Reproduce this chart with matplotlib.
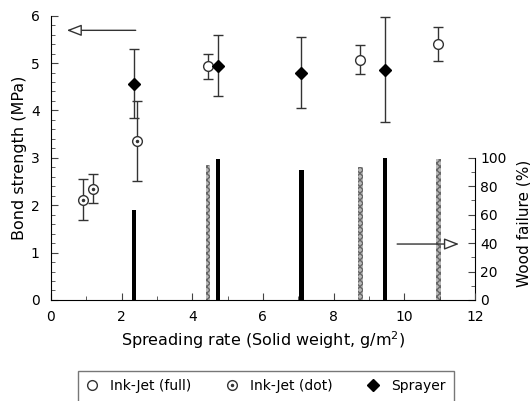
import matplotlib.pyplot as plt
from matplotlib.ticker import MultipleLocator, FixedLocator
from matplotlib.legend_handler import HandlerTuple

plt.rcParams['font.family'] = ['DejaVu Sans']
plt.rcParams['font.size'] = 10

# Ink-Jet (full)
full_x = [4.44, 8.76, 10.97]
full_y = [4.93, 5.07, 5.41]
full_lo = [4.67, 4.76, 5.04]
full_hi = [5.20, 5.39, 5.76]
full_wf = [94.6, 93.4, 99.5]

# Ink-Jet (dot)
dot_x = [0.92, 1.20, 2.43]
dot_y = [2.11, 2.35, 3.36]
dot_lo = [1.68, 2.05, 2.52]
dot_hi = [2.56, 2.66, 4.19]

# Sprayer
spr_x = [2.36, 4.72, 7.09, 9.45]
spr_y = [4.55, 4.93, 4.79, 4.86]
spr_lo = [3.83, 4.30, 4.05, 3.76]
spr_hi = [5.30, 5.60, 5.55, 5.98]
spr_wf = [63.4, 99.0, 91.5, 99.8]


def err(y, lo, hi):
    return [[a - b for a, b in zip(y, lo)], [c - a for a, c in zip(y, hi)]]


fig = plt.figure(figsize=(5.3, 4.01), dpi=100)
ax = fig.add_axes([0.096, 0.252, 0.8, 0.709])
ax2 = ax.twinx()

# wood failure bars
ax2.bar(spr_x, spr_wf, width=0.12, color='black', zorder=1)
ax2.bar(full_x, full_wf, width=0.12, color='#b8b8b8', edgecolor='#666666',
        hatch='xxxxx', linewidth=0, zorder=1)
ax2.set_ylim(0, 200)
ax2.set_yticks([0, 20, 40, 60, 80, 100])
ax2.yaxis.set_minor_locator(FixedLocator([10, 30, 50, 70, 90]))
ax2.spines['right'].set_bounds(0, 100)
for s in ['top', 'left', 'bottom']:
    ax2.spines[s].set_visible(False)
ax2.tick_params(axis='y', which='both', direction='in', labelsize=10,
                color='#444444', pad=4)
ax2.tick_params(axis='y', which='major', length=5)
ax2.tick_params(axis='y', which='minor', length=3)
ax2.set_ylabel('Wood failure (%)', fontsize=11)
ax2.yaxis.set_label_coords(1.098, 0.27)

ax.set_zorder(ax2.get_zorder() + 1)
ax.patch.set_visible(False)

ekw = dict(ls='none', ecolor='#333333', elinewidth=1, capsize=3.5,
           capthick=1, zorder=3)
ax.errorbar(full_x, full_y, yerr=err(full_y, full_lo, full_hi), **ekw)
ax.errorbar(dot_x, dot_y, yerr=err(dot_y, dot_lo, dot_hi), **ekw)
ax.errorbar(spr_x, spr_y, yerr=err(spr_y, spr_lo, spr_hi), **ekw)

h_full, = ax.plot(full_x, full_y, 'o', ms=7, mfc='white', mec='#333333',
                  mew=1, ls='none', zorder=4)
h_dot1, = ax.plot(dot_x, dot_y, 'o', ms=7, mfc='white', mec='#333333',
                  mew=1, ls='none', zorder=4)
h_dot2, = ax.plot(dot_x, dot_y, 'o', ms=1.5, color='#333333', ls='none',
                  zorder=5)
h_spr, = ax.plot(spr_x, spr_y, 'D', ms=6.5, color='black', ls='none',
                 zorder=4)

# arrows
arr = dict(arrowstyle='-|>,head_length=0.9,head_width=0.35', fc='white',
           ec='#333333', lw=1, shrinkA=0, shrinkB=0)
ax.annotate('', xy=(0.45, 5.69), xytext=(2.4, 5.69), arrowprops=arr)
ax.annotate('', xy=(11.55, 1.18), xytext=(9.8, 1.18), arrowprops=arr)

ax.set_xlim(0, 12)
ax.set_ylim(0, 6)
ax.xaxis.set_major_locator(MultipleLocator(2))
ax.xaxis.set_minor_locator(MultipleLocator(1))
ax.yaxis.set_major_locator(MultipleLocator(1))
ax.yaxis.set_minor_locator(MultipleLocator(0.2))
ax.spines['top'].set_visible(False)
ax.spines['right'].set_visible(False)
ax.tick_params(which='both', direction='in', labelsize=10, color='#444444')
ax.tick_params(axis='x', which='major', length=5, pad=7)
ax.tick_params(axis='y', which='major', length=5, pad=8)
ax.tick_params(which='minor', length=3)
ax.set_xlabel('Spreading rate (Solid weight, g/m$^2$)', fontsize=11.5,
              labelpad=4)
ax.set_ylabel('Bond strength (MPa)', fontsize=11.5, labelpad=3)

fig.legend([h_full, (h_dot1, h_dot2), h_spr],
           ['Ink-Jet (full)', 'Ink-Jet (dot)', 'Sprayer'],
           handler_map={tuple: HandlerTuple(ndivide=1, pad=0)},
           loc='upper center', bbox_to_anchor=(0.502, 0.075), ncol=3,
           fontsize=10, frameon=True, fancybox=False, edgecolor='#555555',
           handlelength=0.8, handletextpad=0.9, columnspacing=2.5,
           borderpad=0.6, borderaxespad=0)
fig.legends[0]._legend_box.sep = 0

fig.savefig('out.png', dpi=100)
